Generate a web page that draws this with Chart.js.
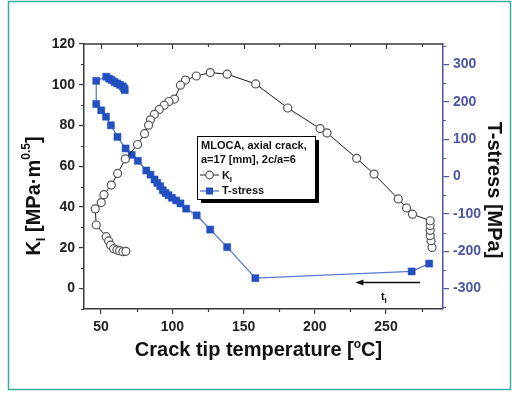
<!DOCTYPE html>
<html>
<head>
<meta charset="utf-8">
<script src="https://cdn.jsdelivr.net/npm/chart.js@4"></script>
<style>
html, body { margin: 0; padding: 0; background: #fff; }
canvas { display: block; }
</style>
</head>
<body>
<canvas id="chart" width="512" height="393"></canvas>
<script>
// K_I history, hot end of the transient first
const kTemp = [282.3, 281.6, 281.0, 281.0, 281.0, 281.0, 268.6, 264.4, 258.6, 241.6, 229.4, 208.6, 203.7, 181.0, 158.5,
               138.5, 126.6, 116.8, 109.2, 105.7, 101.5, 97.6, 94.3, 90.8, 87.4, 84.6, 83.3, 80.5, 75.6, 67.0,
               61.6, 57.2, 52.0, 50.1, 45.9, 46.6, 53.6, 55.3, 56.7, 58.8, 61.1, 63.0, 65.3, 67.4];
const kValue = [20.2, 23.5, 26.0, 28.6, 31.0, 33.3, 36.5, 39.6, 44.0, 56.2, 63.9, 76.4, 78.5, 88.6, 100.4,
                105.2, 106.0, 104.3, 102.3, 99.8, 93.0, 91.8, 90.0, 87.9, 85.5, 82.8, 80.2, 76.0, 70.7, 63.6,
                56.5, 50.8, 46.1, 42.2, 39.1, 31.2, 25.5, 23.4, 21.3, 19.6, 19.0, 18.6, 18.1, 18.3];

// T-stress history, same time order
const tTemp = [280.3, 268.0, 158.3, 138.5, 126.6, 117.1, 109.7, 105.7, 102.7, 99.7, 97.3, 95.2, 93.3, 91.5, 89.4,
               87.5, 84.7, 81.7, 75.8, 71.5, 67.2, 61.5, 56.9, 53.4, 50.1, 46.6, 46.6, 53.6, 55.6, 57.4,
               59.4, 61.4, 63.4, 65.2, 66.2, 66.6];
const tValue = [-233, -254, -272, -189, -142, -104, -86, -72, -64, -57, -50, -44, -37, -26, -17,
                -8, 5, 16, 42, 58, 75, 106, 137, 160, 177, 194, 256, 267, 262, 258,
                253, 249, 245, 241, 236, 231];

// tick values of the three axes
const tempTicks = [50, 100, 150, 200, 250];
const kTicks = [0, 20, 40, 60, 80, 100, 120];
const tTicks = [-300, -200, -100, 0, 100, 200, 300];

const legendTitle = ['MLOCA, axial crack,', 'a=17 [mm], 2c/a=6'];

const FONT = '"Liberation Sans", Arial, sans-serif';
const AXIS_GREY = '#3a3a3a';
const AXIS_BLUE = '#4c56a6';
const T_FILL = '#2250c0';
const T_LINE = '#5a78d2';

function xy(xs, ys) {
    return xs.map((v, i) => ({ x: v, y: ys[i] }));
}

function fixedTicks(values) {
    return scale => { scale.ticks = values.map(v => ({ value: v })); };
}

// draws a run of text pieces (with sub/superscripts) centred on 0,0
function richText(ctx, parts) {
    let total = 0;
    parts.forEach(p => {
        ctx.font = 'bold ' + p.size + 'px ' + FONT;
        p.w = ctx.measureText(p.t).width;
        total += p.w;
    });
    let x = -total / 2;
    ctx.textAlign = 'left';
    ctx.textBaseline = 'alphabetic';
    parts.forEach(p => {
        ctx.font = 'bold ' + p.size + 'px ' + FONT;
        ctx.fillText(p.t, x, p.dy || 0);
        x += p.w;
    });
}

const decor = {
    id: 'decor',
    afterDraw(chart) {
        const ctx = chart.ctx;
        const a = chart.chartArea;
        const sx = chart.scales.x, sy = chart.scales.y, sy2 = chart.scales.y2;
        ctx.save();

        // top frame line
        ctx.strokeStyle = AXIS_GREY;
        ctx.lineWidth = 1.5;
        ctx.beginPath();
        ctx.moveTo(a.left, a.top);
        ctx.lineTo(a.right, a.top);
        ctx.stroke();

        // minor ticks and top ticks
        ctx.lineWidth = 1.2;
        ctx.beginPath();
        for (let v = 50; v <= 275; v += 25) {
            const px = Math.round(sx.getPixelForValue(v)) + 0.5;
            const major = v % 50 === 0;
            if (!major) {
                ctx.moveTo(px, a.bottom);
                ctx.lineTo(px, a.bottom + 3);
            }
            ctx.moveTo(px, a.top);
            ctx.lineTo(px, a.top + (major ? 5 : 3));
        }
        for (let v = -10; v <= 120; v += 10) {
            if (v % 20 === 0) continue;
            const py = Math.round(sy.getPixelForValue(v)) + 0.5;
            ctx.moveTo(a.left, py);
            ctx.lineTo(a.left - 3, py);
        }
        ctx.stroke();

        ctx.strokeStyle = AXIS_BLUE;
        ctx.beginPath();
        for (let v = -350; v <= 350; v += 50) {
            if (v % 100 === 0) continue;
            const py = Math.round(sy2.getPixelForValue(v)) + 0.5;
            ctx.moveTo(a.right, py);
            ctx.lineTo(a.right + 3, py);
        }
        ctx.stroke();

        // time direction arrow
        const ax0 = sx.getPixelForValue(274), ax1 = sx.getPixelForValue(228.5);
        const ay = sy.getPixelForValue(3);
        ctx.strokeStyle = '#111';
        ctx.fillStyle = '#111';
        ctx.lineWidth = 1.6;
        ctx.beginPath();
        ctx.moveTo(ax0, ay);
        ctx.lineTo(ax1 + 6, ay);
        ctx.stroke();
        ctx.beginPath();
        ctx.moveTo(ax1, ay);
        ctx.lineTo(ax1 + 8, ay - 3);
        ctx.lineTo(ax1 + 8, ay + 3);
        ctx.closePath();
        ctx.fill();

        ctx.save();
        ctx.translate(sx.getPixelForValue(248.5), sy.getPixelForValue(-5.5));
        richText(ctx, [{ t: 't', size: 11 }, { t: 'I', size: 8, dy: 3 }]);
        ctx.restore();

        // legend box with drop shadow
        const bx = 197, by = 136, bw = 118, bh = 63;
        ctx.fillStyle = '#000';
        ctx.fillRect(bx + 4, by + 4, bw, bh);
        ctx.fillStyle = '#fff';
        ctx.fillRect(bx, by, bw, bh);
        ctx.strokeStyle = '#000';
        ctx.lineWidth = 1;
        ctx.strokeRect(bx + 0.5, by + 0.5, bw, bh);

        ctx.fillStyle = '#111';
        ctx.font = 'bold 11px ' + FONT;
        ctx.textAlign = 'left';
        ctx.textBaseline = 'middle';
        ctx.fillText(legendTitle[0], bx + 4, by + 10);
        ctx.fillText(legendTitle[1], bx + 4, by + 24);

        // K_I entry
        let ly = by + 39;
        ctx.strokeStyle = '#222';
        ctx.lineWidth = 1;
        ctx.beginPath();
        ctx.moveTo(bx + 3, ly);
        ctx.lineTo(bx + 22, ly);
        ctx.stroke();
        ctx.fillStyle = '#fff';
        ctx.strokeStyle = '#555';
        ctx.lineWidth = 1.2;
        ctx.beginPath();
        ctx.arc(bx + 12.5, ly, 3.8, 0, Math.PI * 2);
        ctx.fill();
        ctx.stroke();
        ctx.fillStyle = '#111';
        ctx.save();
        ctx.translate(bx + 30, ly + 4);
        richText(ctx, [{ t: 'K', size: 11 }, { t: 'I', size: 8, dy: 3 }]);
        ctx.restore();

        // T-stress entry
        ly = by + 55;
        ctx.strokeStyle = T_LINE;
        ctx.lineWidth = 1.3;
        ctx.beginPath();
        ctx.moveTo(bx + 3, ly);
        ctx.lineTo(bx + 22, ly);
        ctx.stroke();
        ctx.fillStyle = T_FILL;
        ctx.fillRect(bx + 9, ly - 3.5, 7, 7);
        ctx.fillStyle = '#111';
        ctx.font = 'bold 11px ' + FONT;
        ctx.textBaseline = 'middle';
        ctx.fillText('T-stress', bx + 25, ly);

        // axis titles
        ctx.fillStyle = '#111';
        ctx.save();
        ctx.translate((a.left + a.right) / 2 - 5, 356);
        richText(ctx, [{ t: 'Crack tip temperature [', size: 20 }, { t: 'o', size: 12, dy: -8 }, { t: 'C]', size: 20 }]);
        ctx.restore();

        ctx.save();
        ctx.translate(40, 196);
        ctx.rotate(-Math.PI / 2);
        richText(ctx, [{ t: 'K', size: 20 }, { t: 'I', size: 13, dy: 5 }, { t: ' [MPa\u00b7m', size: 20 },
                       { t: '0.5', size: 12, dy: -10 }, { t: ']', size: 20 }]);
        ctx.restore();

        ctx.save();
        ctx.translate(488, 190);
        ctx.rotate(Math.PI / 2);
        richText(ctx, [{ t: 'T-stress [MPa]', size: 20 }]);
        ctx.restore();

        // outer frame
        ctx.strokeStyle = '#3cab9f';
        ctx.lineWidth = 1.5;
        ctx.strokeRect(8.5, 1.5, 502, 388);

        ctx.restore();
    }
};

new Chart(document.getElementById('chart').getContext('2d'), {
    type: 'line',
    data: {
        datasets: [
            {
                label: 'K_I',
                data: xy(kTemp, kValue),
                yAxisID: 'y',
                borderColor: '#1a1a1a',
                borderWidth: 1,
                pointStyle: 'circle',
                pointRadius: 4,
                pointBackgroundColor: '#fff',
                pointBorderColor: '#555',
                pointBorderWidth: 1.2,
                tension: 0
            },
            {
                label: 'T-stress',
                data: xy(tTemp, tValue),
                yAxisID: 'y2',
                borderColor: T_LINE,
                borderWidth: 1.3,
                pointStyle: 'rect',
                pointRadius: 5,
                pointBackgroundColor: T_FILL,
                pointBorderColor: T_FILL,
                pointBorderWidth: 0.5,
                tension: 0
            }
        ]
    },
    options: {
        responsive: false,
        animation: false,
        devicePixelRatio: 1,
        layout: { padding: { top: 44 } },
        plugins: { legend: { display: false }, tooltip: { enabled: false } },
        scales: {
            x: {
                type: 'linear',
                position: 'bottom',
                min: 38,
                max: 290,
                afterBuildTicks: fixedTicks(tempTicks),
                afterFit: s => { s.height = 84; },
                ticks: { padding: 5, color: '#222',
                         font: { family: FONT, size: 14, weight: 'bold' } },
                grid: { drawOnChartArea: false, tickLength: 5, color: AXIS_GREY, lineWidth: 1.2 },
                border: { color: AXIS_GREY, width: 1.5 }
            },
            y: {
                position: 'left',
                min: -10,
                max: 120,
                afterBuildTicks: fixedTicks(kTicks),
                afterFit: s => { s.width = 84; },
                ticks: { padding: 4, color: '#222',
                         font: { family: FONT, size: 14, weight: 'bold' } },
                grid: { drawOnChartArea: false, tickLength: 5, color: AXIS_GREY, lineWidth: 1.2 },
                border: { color: AXIS_GREY, width: 1.5 }
            },
            y2: {
                position: 'right',
                min: -354.5,
                max: 354.5,
                afterBuildTicks: fixedTicks(tTicks),
                afterFit: s => { s.width = 69; },
                ticks: { padding: 4, color: AXIS_BLUE,
                         font: { family: FONT, size: 14, weight: 'bold' } },
                grid: { drawOnChartArea: false, tickLength: 6, color: AXIS_BLUE, lineWidth: 1.2 },
                border: { color: AXIS_BLUE, width: 1.5 }
            }
        }
    },
    plugins: [decor]
});
</script>
</body>
</html>
